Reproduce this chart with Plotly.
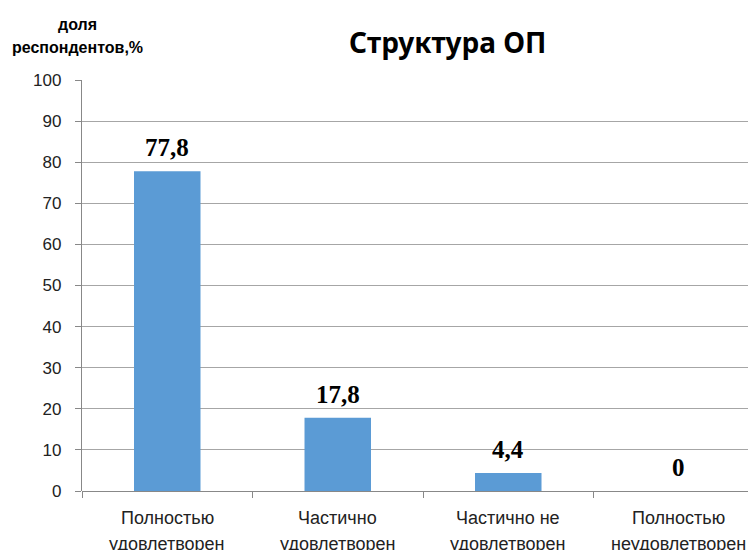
import plotly.graph_objects as go

categories = ["Полностью удовлетворен", "Частично удовлетворен", "Частично не удовлетворен", "Полностью неудовлетворен"]
label_line1 = ["Полностью", "Частично", "Частично не", "Полностью"]
label_line2 = ["удовлетворен", "удовлетворен", "удовлетворен", "неудовлетворен"]
values = [77.8, 17.8, 4.4, 0]
value_labels = ["77,8", "17,8", "4,4", "0"]
y_ticks = list(range(0, 101, 10))

fig = go.Figure()
fig.add_trace(go.Bar(
    x=categories, y=values, width=0.39,
    marker=dict(color="#5B9BD5", line=dict(width=0)),
    cliponaxis=False,
))

annotations = []
for i, c in enumerate(categories):
    annotations.append(dict(x=c, y=values[i], xref="x", yref="y", text="<b>" + value_labels[i] + "</b>",
                            showarrow=False, yanchor="bottom", yshift=8,
                            font=dict(family="Liberation Serif", size=25, color="black")))
    annotations.append(dict(x=c, y=0, xref="x", yref="y", text=label_line1[i], showarrow=False,
                            yanchor="middle", yshift=-27, font=dict(family="Liberation Sans", size=18, color="#222")))
    annotations.append(dict(x=c, y=0, xref="x", yref="y", text=label_line2[i], showarrow=False,
                            yanchor="middle", yshift=-53, font=dict(family="Liberation Sans", size=18, color="#222")))

annotations.append(dict(x=0.543, y=1.0925, xref="paper", yref="paper", xanchor="center", yanchor="middle",
                        text="<b>Структура ОП</b>", showarrow=False,
                        font=dict(family="Noto Sans", size=28, color="black")))
annotations.append(dict(x=-0.0074, y=1.136, xref="paper", yref="paper", xanchor="center", yanchor="middle",
                        text="<b>доля</b>", showarrow=False,
                        font=dict(family="Liberation Sans", size=16, color="black")))
annotations.append(dict(x=-0.0074, y=1.080, xref="paper", yref="paper", xanchor="center", yanchor="middle",
                        text="<b>респондентов,%</b>", showarrow=False,
                        font=dict(family="Liberation Sans", size=16, color="black")))

fig.update_layout(
    width=756, height=550,
    margin=dict(l=74, r=8, t=72, b=67),
    paper_bgcolor="white", plot_bgcolor="white",
    showlegend=False,
    annotations=annotations,
    xaxis=dict(
        range=[-0.5, 3.453], showticklabels=False, ticks="outside", tickson="boundaries",
        ticklen=6, tickcolor="#888", tickwidth=1.3, showline=False, showgrid=False, zeroline=False,
    ),
    yaxis=dict(
        range=[0, 100], tickvals=y_ticks, ticks="outside", ticklen=6, tickcolor="#888", tickwidth=1.3,
        ticklabelstandoff=10,
        showgrid=True, gridcolor="#A6A6A6", gridwidth=1.3, showline=True, linecolor="#888", linewidth=1.3,
        zeroline=True, zerolinecolor="#888", zerolinewidth=1.3,
        tickfont=dict(family="Liberation Sans", size=17, color="#222"),
    ),
)
fig.write_html("out.html")
